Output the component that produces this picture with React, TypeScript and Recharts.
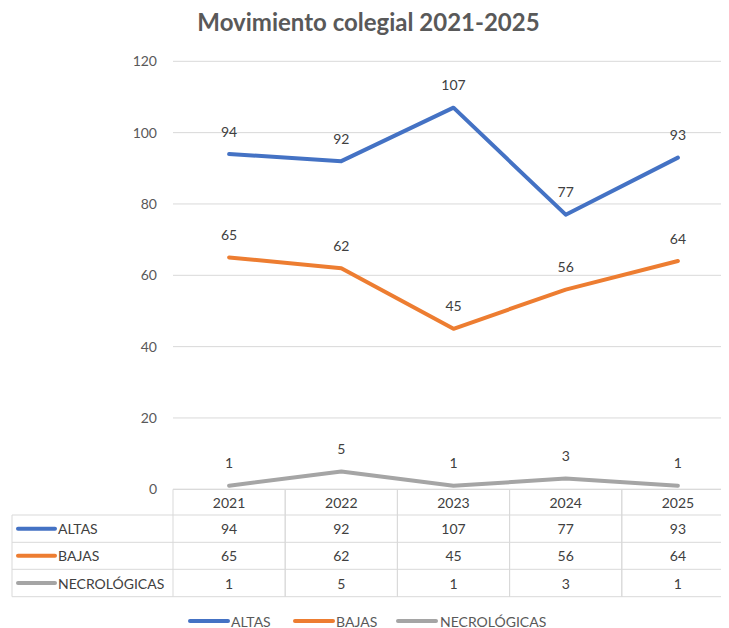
import React from "react";
import { LineChart, Line, XAxis, YAxis, CartesianGrid, LabelList, Customized } from "recharts";

const years = ["2021", "2022", "2023", "2024", "2025"];
const altas = [94, 92, 107, 77, 93];
const bajas = [65, 62, 45, 56, 64];
const necrologicas = [1, 5, 1, 3, 1];
const yTicks = [0, 20, 40, 60, 80, 100, 120];

const seriesInfo = [
  { key: "altas", name: "ALTAS", color: "#4472C4", values: altas },
  { key: "bajas", name: "BAJAS", color: "#ED7D31", values: bajas },
  { key: "necro", name: "NECROLÓGICAS", color: "#A5A5A5", values: necrologicas },
];

const data = years.map((y, i) => ({
  year: y,
  altas: altas[i],
  bajas: bajas[i],
  necro: necrologicas[i],
}));

const W = 721;
const H = 620;
const PLOT_LEFT = 165;
const PLOT_RIGHT = 726;
const PLOT_TOP = 53.3;
const PLOT_BOTTOM = 481.3;
const BW = (PLOT_RIGHT - PLOT_LEFT) / years.length;
const FONT = "Lato, 'Open Sans', sans-serif";
const GRID = "#D9D9D9";
const TXT = "#404040";
const AXT = "#595959";
const ROW_Y = [507, 534.3, 561.3, 588.7];

const TableTick = (props: any) => {
  const { x, index } = props;
  const col = years[index];
  const yTop = PLOT_BOTTOM;
  const centers = [
    (yTop + ROW_Y[0]) / 2,
    (ROW_Y[0] + ROW_Y[1]) / 2,
    (ROW_Y[1] + ROW_Y[2]) / 2,
    (ROW_Y[2] + ROW_Y[3]) / 2,
  ];
  return (
    <g>
      <line x1={x - BW / 2} x2={x - BW / 2} y1={yTop} y2={ROW_Y[3]} stroke={GRID} />
      <line x1={x + BW / 2} x2={x + BW / 2} y1={yTop} y2={ROW_Y[3]} stroke={GRID} />
      <text x={x} y={centers[0]} textAnchor="middle" dominantBaseline="central" fontSize={14} fill={TXT} fontFamily={FONT}>
        {col}
      </text>
      {seriesInfo.map((s, k) => (
        <text key={s.key} x={x} y={centers[k + 1]} textAnchor="middle" dominantBaseline="central" fontSize={14} fill={TXT} fontFamily={FONT}>
          {s.values[index]}
        </text>
      ))}
    </g>
  );
};

const Extras = () => (
  <g>
    <text x={360.5} y={23} textAnchor="middle" fontSize={24} fontWeight="bold" fill={AXT} fontFamily={FONT}>
      Movimiento colegial 2021-2025
    </text>
    <line x1={PLOT_LEFT} x2={PLOT_RIGHT} y1={PLOT_BOTTOM} y2={PLOT_BOTTOM} stroke={GRID} />
    {ROW_Y.map((ry) => (
      <line key={ry} x1={4} x2={PLOT_RIGHT} y1={ry} y2={ry} stroke={GRID} />
    ))}
    <line x1={4} x2={4} y1={ROW_Y[0]} y2={ROW_Y[3]} stroke={GRID} />
    {seriesInfo.map((s, k) => {
      const cy = (ROW_Y[k] + ROW_Y[k + 1]) / 2;
      return (
        <g key={s.key}>
          <line x1={10} x2={47} y1={cy} y2={cy} stroke={s.color} strokeWidth={4} strokeLinecap="round" />
          <text x={50} y={cy} dominantBaseline="central" fontSize={14} fill={TXT} fontFamily={FONT}>
            {s.name}
          </text>
        </g>
      );
    })}
    {[
      { x1: 182, x2: 220, tx: 223 },
      { x1: 287, x2: 325, tx: 328 },
      { x1: 390, x2: 428, tx: 432 },
    ].map((p, k) => (
      <g key={k}>
        <line x1={p.x1} x2={p.x2} y1={613} y2={613} stroke={seriesInfo[k].color} strokeWidth={4} strokeLinecap="round" />
        <text x={p.tx} y={613} dominantBaseline="central" fontSize={14} fill={AXT} fontFamily={FONT}>
          {seriesInfo[k].name}
        </text>
      </g>
    ))}
  </g>
);

const renderLabel = (props: any) => {
  const { x, y, value } = props;
  return (
    <text x={x} y={y - 23} textAnchor="middle" dominantBaseline="central" fontSize={14} fill={TXT} fontFamily={FONT}>
      {value}
    </text>
  );
};

export default function App() {
  return (
    <LineChart
      width={W}
      height={H}
      data={data}
      margin={{ top: PLOT_TOP, right: W - PLOT_RIGHT, left: PLOT_LEFT - 60, bottom: 0 }}
      style={{ fontFamily: FONT }}
    >
      <CartesianGrid vertical={false} stroke={GRID} />
      <XAxis
        dataKey="year"
        height={H - PLOT_BOTTOM}
        axisLine={false}
        tickLine={false}
        tickSize={0}
        padding={{ left: BW / 2, right: BW / 2 }}
        tick={<TableTick />}
        interval={0}
      />
      <YAxis
        width={60}
        domain={[0, 120]}
        ticks={yTicks}
        axisLine={false}
        tickLine={false}
        tickSize={0}
        tickMargin={16}
        tick={{ fill: AXT, fontSize: 14, fontFamily: FONT }}
      />
      {seriesInfo.map((s) => (
        <Line
          key={s.key}
          dataKey={s.key}
          name={s.name}
          stroke={s.color}
          strokeWidth={4}
          strokeLinecap="round"
          strokeLinejoin="round"
          dot={false}
          activeDot={false}
          isAnimationActive={false}
        >
          <LabelList dataKey={s.key} content={renderLabel} />
        </Line>
      ))}
      <Customized component={Extras} />
    </LineChart>
  );
}
